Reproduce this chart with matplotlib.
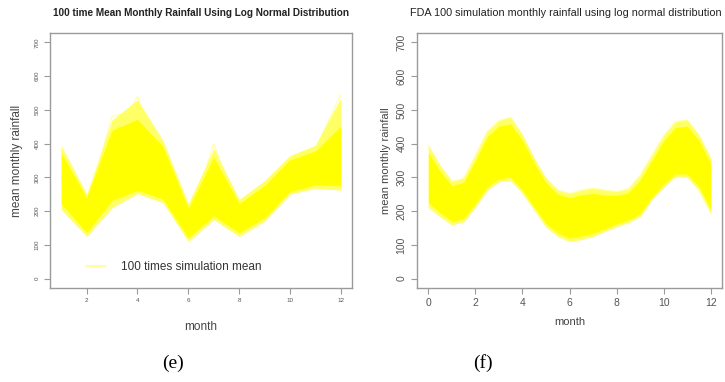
import matplotlib
matplotlib.use("Agg")
import matplotlib.pyplot as plt

# ---------------- data ----------------
months_e = [1, 2, 3, 4, 5, 6, 7, 8, 9, 10, 11, 12]
e_outer_upper = [395, 250, 470, 530, 410, 222, 385, 235, 290, 365, 395, 535]
e_inner_upper = [372, 240, 440, 472, 392, 208, 360, 222, 276, 352, 378, 452]
e_inner_lower = [222, 136, 232, 262, 236, 121, 186, 136, 180, 258, 278, 275]
e_outer_lower = [205, 125, 210, 252, 225, 110, 175, 125, 170, 250, 268, 262]
e_outlier_a = [380, 215, 480, 500, 380, 195, 300, 200, 265, 350, 385, 545]
e_outlier_b = [300, 180, 400, 540, 330, 160, 400, 190, 240, 330, 360, 470]

months_f = [0, 0.5, 1, 1.5, 2, 2.5, 3, 3.5, 4, 4.5, 5, 5.5, 6, 6.5, 7, 7.5, 8,
            8.5, 9, 9.5, 10, 10.5, 11, 11.5, 12]
f_outer_upper = [395, 335, 288, 297, 365, 436, 468, 478, 425, 356, 297, 262, 252,
                 262, 268, 262, 258, 266, 306, 365, 424, 465, 470, 425, 356]
f_inner_upper = [375, 318, 275, 285, 350, 420, 452, 458, 410, 342, 285, 250, 240,
                 248, 252, 248, 246, 254, 292, 350, 408, 448, 452, 410, 340]
f_inner_lower = [225, 195, 170, 178, 222, 272, 296, 300, 262, 212, 164, 135, 120,
                 126, 134, 148, 162, 174, 192, 242, 280, 310, 310, 272, 205]
f_outer_lower = [212, 184, 160, 168, 212, 262, 287, 292, 254, 204, 154, 126, 110,
                 116, 125, 140, 154, 166, 184, 234, 272, 302, 302, 262, 195]

yticks = [0, 100, 200, 300, 400, 500, 600, 700]
xticks_e = [2, 4, 6, 8, 10, 12]
xticks_f = [0, 2, 4, 6, 8, 10, 12]

title_e = "100 time Mean Monthly Rainfall Using Log Normal Distribution"
title_f = "FDA 100 simulation monthly rainfall using log normal distribution"
ylabel = "mean monthly rainfall"
xlabel = "month"
legend_label = "100 times simulation mean"

# ---------------- styling ----------------
W, H = 725, 382
fig = plt.figure(figsize=(W / 100, H / 100), dpi=100)
plt.rcParams['font.family'] = ['Liberation Sans', 'DejaVu Sans']

YEL = "#FFFF00"
YEL_LIGHT = "#FFFF66"
YEL_PALE = "#FFFFA8"
FRAME = "#9a9a9a"
TXT = "#555555"


def px_axes(x0, y0, x1, y1):
    return fig.add_axes([x0 / W, 1 - y1 / H, (x1 - x0) / W, (y1 - y0) / H])


def style(ax, xmin, xmax, tick_fs, xticks):
    pad = (xmax - xmin) * 0.04
    ax.set_xlim(xmin - pad, xmax + pad)
    ax.set_ylim(-28, 728)
    ax.set_xticks(xticks)
    ax.set_yticks(yticks)
    ax.set_yticklabels([str(v) for v in yticks], rotation=90, va="center")
    for s in ax.spines.values():
        s.set_color(FRAME)
        s.set_linewidth(1.0)
    ax.tick_params(direction="out", length=4, width=0.8, color=FRAME,
                   labelcolor=TXT, labelsize=tick_fs)


# ---- left panel (e) ----
ax1 = px_axes(50, 33, 352, 288)
for arr in (e_outlier_a, e_outlier_b):
    ax1.plot(months_e, arr, color=YEL_PALE, lw=0.9, zorder=1)
ax1.fill_between(months_e, e_outer_lower, e_outer_upper, color=YEL_LIGHT, lw=0,
                 zorder=2)
ax1.fill_between(months_e, e_inner_lower, e_inner_upper, color=YEL, lw=0,
                 zorder=3)
style(ax1, 1, 12, 4.5, xticks_e)
ax1.set_title(title_e, fontsize=7.2, fontweight="bold", pad=12, color="#222222")
ax1.set_ylabel(ylabel, fontsize=8.5, color="#444444", labelpad=8)
ax1.set_xlabel(xlabel, fontsize=8.5, color="#444444", labelpad=13)
h, = ax1.plot([], [], color="#FFFFA0", lw=1.5)
ax1.legend([h], [legend_label], loc="center left", bbox_to_anchor=(0.085, 0.083),
           frameon=False, fontsize=8.5, handlelength=1.6, handletextpad=1.3,
           labelcolor="#333333")

# ---- right panel (f) ----
ax2 = px_axes(417, 33, 722, 288)
for arr in (f_outer_upper, f_outer_lower):
    ax2.plot(months_f, arr, color=YEL_PALE, lw=0.9, zorder=1)
ax2.fill_between(months_f, f_outer_lower, f_outer_upper, color=YEL_LIGHT, lw=0,
                 zorder=2)
ax2.fill_between(months_f, f_inner_lower, f_inner_upper, color=YEL, lw=0,
                 zorder=3)
style(ax2, 0, 12, 7.5, xticks_f)
ax2.set_title(title_f, fontsize=7.8, pad=12, color="#222222", loc="left",
              x=-0.023)
ax2.set_ylabel(ylabel, fontsize=8, color="#444444", labelpad=4)
ax2.set_xlabel(xlabel, fontsize=8, color="#444444", labelpad=6)

# captions
fig.text(173 / W, 1 - 363 / H, "(e)", family="Liberation Serif", fontsize=14,
         ha="center", va="center")
fig.text(483 / W, 1 - 363 / H, "(f)", family="Liberation Serif", fontsize=14,
         ha="center", va="center")

fig.savefig("out.png", dpi=100)
